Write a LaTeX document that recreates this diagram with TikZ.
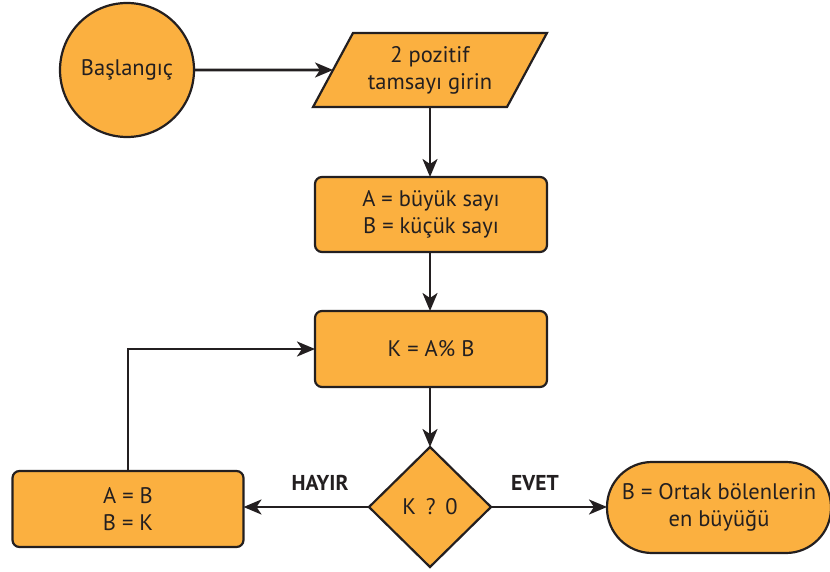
\documentclass[tikz,border=0pt]{standalone}
\usepackage{fontspec}
\setmainfont{PT Sans}
\usetikzlibrary{shapes.geometric,arrows.meta}
\definecolor{boxfill}{HTML}{FBB040}
\definecolor{ink}{HTML}{231F20}
\begin{document}
\begin{tikzpicture}[x=1pt,y=-1pt,
  every node/.style={font=\fontsize{22.5}{27}\selectfont, text=ink},
  shapebase/.style={draw=ink, fill=boxfill, line width=2.2pt, inner sep=0pt, outer sep=0pt, align=center},
  procbox/.style={shapebase, rectangle, rounded corners=7pt, minimum width=232pt, minimum height=75pt},
  startcircle/.style={shapebase, circle, minimum size=134pt},
  iobox/.style={shapebase, trapezium, trapezium left angle=56, trapezium right angle=124,
    trapezium stretches=true, minimum width=234pt, minimum height=74pt},
  decision/.style={shapebase, diamond, minimum width=122pt, minimum height=120pt},
  terminal/.style={shapebase, rectangle, rounded corners=45pt, minimum width=224pt, minimum height=91pt},
  flow/.style={draw=ink, line width=2.6pt, -{Stealth[length=18pt,width=15pt,inset=5pt]}},
  branchlabel/.style={font=\fontsize{21.5}{24}\selectfont\bfseries}
]
\useasboundingbox (0,0) rectangle (830,572);

% flowchart nodes
\node[startcircle] (start) at (127,70) {Başlangıç};
\node[iobox] (input) at (430,70) {2 pozitif\\tamsayı girin};
\node[procbox] (assign) at (431,214.5) {A = büyük sayı\\B = küçük sayı};
\node[procbox, minimum height=76pt] (mod) at (431,349) {K = A\% B};
\node[decision] (test) at (430,507) {K\,\ ?\,\ 0};
\node[procbox, minimum width=231pt, minimum height=76pt] (swap) at (128,509) {A = B\\B = K};
\node[terminal] (result) at (719,507.5) {B = Ortak bölenlerin\\en büyüğü};

% branch labels
\node[branchlabel] (nolabel) at (320,483) {HAYIR};
\node[branchlabel] (yeslabel) at (535,483) {EVET};

% connectors
\draw[flow] (start.east) -- (input.west);
\draw[flow] (input.south) -- (input.south |- assign.north);
\draw[flow] (assign.south -| input.south) -- (input.south |- mod.north);
\draw[flow] (mod.south -| test.north) -- (test.north);
\draw[flow] (test.west) -- (test.west -| swap.east);
\draw[flow] (test.east) -- (test.east -| result.west);
\draw[flow] (swap.north) |- (mod.west);
\end{tikzpicture}
\end{document}
